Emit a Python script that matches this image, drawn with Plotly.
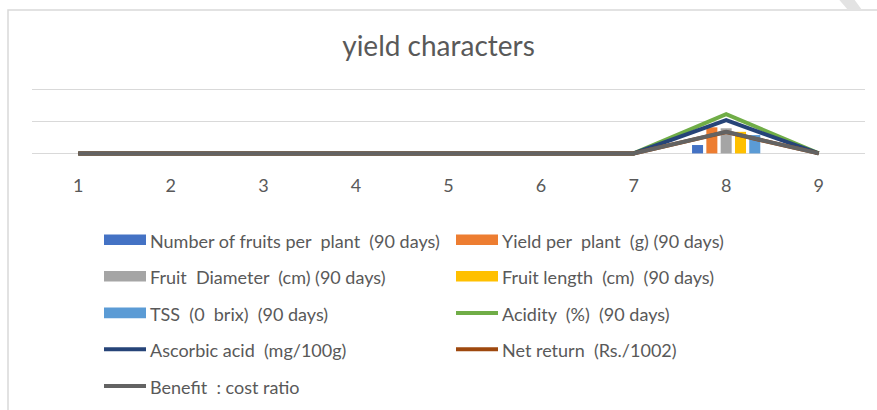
import plotly.graph_objects as go

categories = ["1", "2", "3", "4", "5", "6", "7", "8", "9"]

bar_names = [
    "Number of fruits per  plant  (90 days)",
    "Yield per  plant  (g) (90 days)",
    "Fruit  Diameter  (cm) (90 days)",
    "Fruit length  (cm)  (90 days)",
    "TSS  (0  brix)  (90 days)",
]
number_of_fruits = [0, 0, 0, 0, 0, 0, 0, 13, 0]
yield_per_plant = [0, 0, 0, 0, 0, 0, 0, 40.5, 0]
fruit_diameter = [0, 0, 0, 0, 0, 0, 0, 39, 0]
fruit_length = [0, 0, 0, 0, 0, 0, 0, 33.5, 0]
tss = [0, 0, 0, 0, 0, 0, 0, 28.5, 0]

line_names = [
    "Acidity  (%)  (90 days)",
    "Ascorbic acid  (mg/100g)",
    "Net return  (Rs./1002)",
    "Benefit  : cost ratio",
]
acidity = [0, 0, 0, 0, 0, 0, 0, 61, 0]
ascorbic_acid = [0, 0, 0, 0, 0, 0, 0, 51.5, 0]
net_return = [0, 0, 0, 0, 0, 0, 0, 33, 0]
benefit_cost = [0, 0, 0, 0, 0, 0, 0, 33.5, 0]

bar_colors = ["#4472C4", "#ED7D31", "#A5A5A5", "#FFC000", "#5B9BD5"]
line_colors = ["#70AD47", "#264478", "#9E480E", "#636363"]

W, H = 877, 410
L, R, T = 32, 12, 86
PH = 70
B = H - T - PH
PW = W - L - R
FONT = "Lato"
TXT = "#595959"
PPU = 0.644  # pixels per value unit
Y_MAX = 100 + (89 - T) / PPU
Y_MIN = -((T + PH) - 153.4) / PPU


def px(x):
    return (x - L) / PW


def py(y):
    return (T + PH - y) / PH


fig = go.Figure()
bar_series = [number_of_fruits, yield_per_plant, fruit_diameter, fruit_length, tss]
for name, vals, col in zip(bar_names, bar_series, bar_colors):
    fig.add_trace(go.Bar(x=categories, y=vals, name=name, marker_color=col,
                         marker_line_width=0))
line_series = [acidity, ascorbic_acid, net_return, benefit_cost]
for name, vals, col in zip(line_names, line_series, line_colors):
    fig.add_trace(go.Scatter(x=categories, y=vals, name=name, mode="lines",
                             line=dict(color=col, width=4), cliponaxis=False))

shapes = []
annotations = []
# outer chart border
shapes.append(dict(type="rect", xref="paper", yref="paper",
                   x0=px(8), x1=px(900), y0=py(430), y1=py(10),
                   line=dict(color="#d9d9d9", width=1.5), fillcolor="rgba(0,0,0,0)", layer="below"))
# faint corner artifact
shapes.append(dict(type="path", xref="paper", yref="paper",
                   path=f"M {px(838.5)} {py(-1)} L {px(854)} {py(-1)} L {px(862)} {py(10)} L {px(848)} {py(10)} Z",
                   fillcolor="#e3e3e3", line=dict(width=0), layer="below"))

# legend (two columns)
legend_items = []
for i in range(5):
    legend_items.append(("bar", bar_names[i], bar_colors[i]))
for i in range(4):
    legend_items.append(("line", line_names[i], line_colors[i]))
col_x = [104, 456]
row_y = [239.7, 276.3, 312.9, 349.3, 386.0]
for idx, (kind, name, col) in enumerate(legend_items):
    c = idx % 2
    r = idx // 2
    x0 = col_x[c]
    yc = row_y[r]
    if kind == "bar":
        shapes.append(dict(type="rect", xref="paper", yref="paper",
                           x0=px(x0), x1=px(x0 + 42), y0=py(yc + 5.3), y1=py(yc - 5.3),
                           fillcolor=col, line=dict(width=0)))
    else:
        shapes.append(dict(type="line", xref="paper", yref="paper",
                           x0=px(x0), x1=px(x0 + 42), y0=py(yc), y1=py(yc),
                           line=dict(color=col, width=4)))
    annotations.append(dict(text=name, xref="paper", yref="paper",
                            x=px(x0 + 44), y=py(yc + 1), xanchor="left", yanchor="middle",
                            showarrow=False, font=dict(family=FONT, size=18, color=TXT)))

fig.update_layout(
    width=W, height=H,
    margin=dict(l=L, r=R, t=T, b=B, pad=0),
    paper_bgcolor="white", plot_bgcolor="white",
    barmode="group", bargap=0.227, bargroupgap=0.23,
    showlegend=False,
    title=dict(text="yield characters", x=0.5, xanchor="center", y=1 - 46 / H, yanchor="middle",
               font=dict(family=FONT, size=28, color=TXT)),
    xaxis=dict(type="category", showgrid=False, zeroline=False, showline=False,
               ticks="", ticklabelstandoff=17,
               tickfont=dict(family=FONT, size=18, color=TXT)),
    yaxis=dict(range=[Y_MIN, Y_MAX], tickvals=[0, 50, 100], showticklabels=False,
               showgrid=True, gridcolor="#d9d9d9", gridwidth=1.3, zeroline=False,
               showline=False, ticks=""),
    shapes=shapes,
    annotations=annotations,
)

fig.write_html("out.html", config={"displayModeBar": False},
               post_script="document.body.style.margin='0';document.body.style.overflow='hidden';")
